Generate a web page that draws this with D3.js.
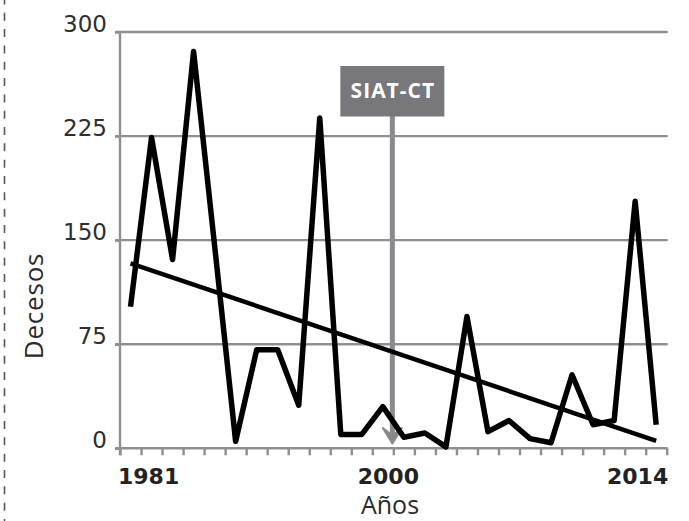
<!DOCTYPE html>
<html>
<head>
<meta charset="utf-8">
<script src="https://cdn.jsdelivr.net/npm/d3@7"></script>
<style>
  html, body { margin: 0; padding: 0; background: #fff; }
  svg { display: block; }
</style>
</head>
<body>
<svg id="chart" width="689" height="521"></svg>
<script>
// ---- data ----
const deaths = [102, 224, 136, 286, 146, 5, 71, 71, 31, 238, 10, 10, 30, 8, 11, 1, 95, 12, 20, 7, 4, 53, 17, 20, 178, 17];
const yTicks = [0, 75, 150, 225, 300];
const xLabels = ["1981", "2000", "2014"];
const interventionLabel = "SIAT-CT";
const interventionIndex = 13; // boundary before this category
const yTitle = "Decesos";
const xTitle = "Años";

(function () {
// ---- layout ----
const svg = d3.select("#chart");
const pLeft = 120, pRight = 666.7, pTop = 32, pBottom = 448.3;
const gridGrey = "#8e8e93";

const x = d3.scaleLinear().domain([0, deaths.length]).range([pLeft, pRight]);
const y = d3.scaleLinear().domain([0, 300]).range([pBottom, pTop]);

// dashed frame line at left
svg.append("line")
  .attr("x1", 4.5).attr("x2", 4.5).attr("y1", 0).attr("y2", 521)
  .attr("stroke", "#555").attr("stroke-width", 1.6)
  .attr("stroke-dasharray", "8,8.33").attr("stroke-dashoffset", 3.6);

// gridlines
svg.append("g").selectAll("line").data(yTicks).join("line")
  .attr("x1", pLeft - 5).attr("x2", pRight + 1)
  .attr("y1", d => y(d)).attr("y2", d => y(d))
  .attr("stroke", gridGrey).attr("stroke-width", 2.4);

// y axis
const yAxis = svg.append("g").attr("transform", `translate(${pLeft},0)`)
  .call(d3.axisLeft(y).tickValues(yTicks).tickSize(5).tickPadding(8));
yAxis.select(".domain").remove();
yAxis.selectAll(".tick line").attr("stroke", gridGrey).attr("stroke-width", 2.4);
yAxis.selectAll(".tick text")
  .attr("dy", "-0.5")
  .attr("fill", "#2e2e2e")
  .style("font-family", "'DejaVu Sans', sans-serif")
  .style("font-size", "23px");

// vertical axis line
svg.append("line")
  .attr("x1", pLeft).attr("x2", pLeft).attr("y1", pTop).attr("y2", pBottom + 7)
  .attr("stroke", gridGrey).attr("stroke-width", 2.4);

// x tick marks
const xAxis = svg.append("g").attr("transform", `translate(0,${pBottom})`)
  .call(d3.axisBottom(x).tickValues(d3.range(deaths.length + 1)).tickSize(7).tickFormat(""));
xAxis.select(".domain").remove();
xAxis.selectAll(".tick line").attr("stroke", gridGrey).attr("stroke-width", 2.4);

// x labels
const labelPos = [
  { t: xLabels[0], x: x(0) - 2, anchor: "start" },
  { t: xLabels[1], x: x(interventionIndex) - 5, anchor: "middle" },
  { t: xLabels[2], x: x(deaths.length) + 1.5, anchor: "end" }
];
svg.append("g").selectAll("text").data(labelPos).join("text")
  .attr("x", d => d.x).attr("y", 484)
  .attr("text-anchor", d => d.anchor)
  .attr("fill", "#222")
  .style("font-family", "'DejaVu Sans', sans-serif")
  .style("font-weight", "bold")
  .style("font-size", "22px")
  .text(d => d.t);

// intervention marker
const ix = x(interventionIndex) - 1;
svg.append("line")
  .attr("x1", ix).attr("x2", ix).attr("y1", 116).attr("y2", 437)
  .attr("stroke", "#8a8a8e").attr("stroke-width", 5);
svg.append("path")
  .attr("d", `M${ix - 9.5},428 L${ix},435.5 L${ix + 9.5},428 L${ix},443.5 Z`)
  .attr("fill", "#8a8a8e").attr("stroke", "#8a8a8e").attr("stroke-width", 2)
  .attr("stroke-linejoin", "round");
svg.append("rect")
  .attr("x", ix - 52).attr("y", 66).attr("width", 104).attr("height", 50.5)
  .attr("fill", "#78787c");
svg.append("text")
  .attr("x", ix + 0.5).attr("y", 97.7)
  .attr("text-anchor", "middle")
  .attr("fill", "#fff")
  .style("font-family", "'Open Sans', sans-serif")
  .style("font-weight", "bold")
  .style("font-size", "21px")
  .style("letter-spacing", "1px")
  .text(interventionLabel);

// data line
const line = d3.line().x((d, i) => x(i + 0.5)).y(d => y(d));
svg.append("path").datum(deaths)
  .attr("d", line)
  .attr("fill", "none").attr("stroke", "#000").attr("stroke-width", 5.5)
  .attr("stroke-linejoin", "round");

// linear trend (least squares)
const n = deaths.length;
const mx = d3.mean(deaths, (d, i) => i), my = d3.mean(deaths);
const slope = d3.sum(deaths, (d, i) => (i - mx) * (d - my)) / d3.sum(deaths, (d, i) => (i - mx) * (i - mx));
const icpt = my - slope * mx;
const trend = [0, n - 1].map(i => [i, icpt + slope * i]);
svg.append("path").datum(trend)
  .attr("d", d3.line().x(d => x(d[0] + 0.5)).y(d => y(d[1])))
  .attr("fill", "none").attr("stroke", "#000").attr("stroke-width", 4.5);

// axis titles
svg.append("text")
  .attr("transform", "translate(43,306) rotate(-90)")
  .attr("text-anchor", "middle")
  .attr("fill", "#2a2a2a")
  .style("font-family", "'Open Sans', sans-serif")
  .style("font-size", "26px")
  .style("letter-spacing", "0.8px")
  .text(yTitle);
svg.append("text")
  .attr("x", 390).attr("y", 514)
  .attr("text-anchor", "middle")
  .attr("fill", "#2a2a2a")
  .style("font-family", "'Open Sans', sans-serif")
  .style("font-size", "25px")
  .text(xTitle);
})();
</script>
</body>
</html>
